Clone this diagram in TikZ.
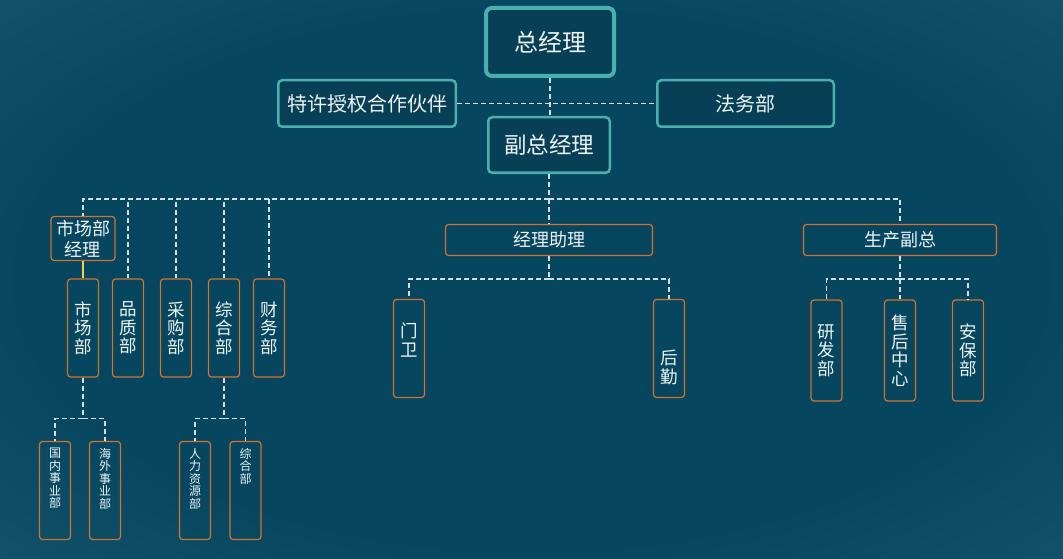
\documentclass[tikz,border=0pt]{standalone}
\usepackage{fontspec}
\setmainfont{Noto Sans CJK SC}
\usetikzlibrary{positioning,calc}
\definecolor{bgdeep}{HTML}{06465E}
\definecolor{bgedge}{HTML}{28657F}
\definecolor{tealline}{HTML}{4AB0AF}
\definecolor{tealfill}{HTML}{073F56}
\definecolor{orangeline}{HTML}{D27430}
\definecolor{dashgray}{HTML}{D5DEE2}
\definecolor{linkyellow}{HTML}{F0D34A}
\definecolor{labelwhite}{HTML}{EEF4F4}
\pgfdeclareradialshading{vignette}{\pgfpoint{0bp}{0bp}}{color(0bp)=(bgdeep); color(24bp)=(bgdeep); color(56bp)=(bgedge); color(72bp)=(bgedge)}
\tikzset{
  topbox/.style={rounded corners=6pt, draw=tealline, line width=4pt, fill=tealfill, text=labelwhite, align=center, inner sep=0pt},
  tealbox/.style={rounded corners=4pt, draw=tealline, line width=2.5pt, fill=tealfill, text=labelwhite, align=center, inner sep=0pt},
  deptbox/.style={rounded corners=3pt, draw=orangeline, line width=1.2pt, text=labelwhite, align=center, inner sep=0pt, minimum height=31pt, font=\fontsize{18}{20}\selectfont},
  colbox/.style={rounded corners=3pt, draw=orangeline, line width=1.2pt, text=labelwhite, align=center, inner sep=0pt, minimum width=31pt, font=\fontsize{17.5}{18.5}\selectfont},
  subbox/.style={colbox, minimum height=98pt},
  coltext/.style={text=labelwhite, align=center, inner sep=0pt, font=\fontsize{17.5}{18.5}\selectfont},
  subtext/.style={text=labelwhite, align=center, inner sep=0pt, font=\fontsize{12}{12.5}\selectfont},
  link/.style={draw=dashgray, line width=1.3pt, dash pattern=on 5pt off 3pt},
  mainlink/.style={draw=linkyellow, line width=1.5pt}
}

\begin{document}
\begin{tikzpicture}[x=1pt, y=-1pt]
  \shade[shading=vignette] (0,0) rectangle (1063,559);

  % top management
  \node[topbox, minimum width=128pt, minimum height=68pt, font=\fontsize{24}{26}\selectfont] (gm) at (550,42) {总经理};
  \node[tealbox, minimum width=177.5pt, minimum height=46.5pt, font=\fontsize{20}{22}\selectfont] (partner) at (367,103.5) {特许授权合作伙伴};
  \node[tealbox, minimum width=176.5pt, minimum height=46.5pt, font=\fontsize{20}{22}\selectfont] (legal) at (745.5,103.5) {法务部};
  \node[tealbox, minimum width=121.5pt, minimum height=55.5pt, font=\fontsize{22.5}{24}\selectfont] (vgm) at (549,145) {副总经理};

  % second level
  \node[deptbox, minimum width=64pt, minimum height=44pt, font=\fontsize{18}{21}\selectfont] (mgr) at (83,238.5) {市场部\\经理};
  \node[deptbox, minimum width=207pt] (asst) at (549,240) {经理助理};
  \node[deptbox, minimum width=193pt] (prod) at (900,240) {生产副总};

  % departments
  \node[colbox, minimum height=98pt] (mkt) at (83,328) {市\\场\\部};
  \node[colbox, minimum height=98pt] (qual) at (128,328) {品\\质\\部};
  \node[colbox, minimum height=98pt] (purch) at (176,328) {采\\购\\部};
  \node[colbox, minimum height=98pt] (gen) at (224,328) {综\\合\\部};
  \node[colbox, minimum height=98pt] (fin) at (269,328) {财\\务\\部};

  \node[colbox, minimum height=98pt] (gate) at (409,348.5) {};
  \node[coltext, below=24pt of gate.north] (gatetext) {门\\卫};
  \node[colbox, minimum height=98pt] (logi) at (669,348.5) {};
  \node[coltext, above=13pt of logi.south] (logitext) {后\\勤};

  \node[colbox, minimum height=101pt] (rd) at (826.5,350.5) {研\\发\\部};
  \node[colbox, minimum height=101pt] (svc) at (900,350.5) {售\\后\\中\\心};
  \node[colbox, minimum height=101pt] (sec) at (968,350.5) {安\\保\\部};

  % third level
  \node[subbox] (dom) at (55,490.5) {};
  \node[subtext, below=7pt of dom.north] (domtext) {国\\内\\事\\业\\部};
  \node[subbox] (ovs) at (105,490.5) {};
  \node[subtext, below=7pt of ovs.north] (ovstext) {海\\外\\事\\业\\部};
  \node[subbox] (hr) at (195,490.5) {};
  \node[subtext, below=7pt of hr.north] (hrtext) {人\\力\\资\\源\\部};
  \node[subbox] (gensub) at (245.5,490.5) {};
  \node[subtext, below=7pt of gensub.north] (gensubtext) {综\\合\\部};

  % connectors
  \draw[link] (gm.south) -- (gm.south |- vgm.north);
  \draw[link] (partner.east) -- (legal.west);
  \coordinate (topbus) at (549,199);
  \draw[link] (vgm.south) -- (topbus);
  \foreach \d in {mgr,qual,purch,gen,fin,asst,prod}
    \draw[link] (topbus) -| (\d.north);
  \draw[mainlink] (mgr.south) -- (mkt.north);

  \draw[link] (mkt.south) -- ++(0,41) coordinate (mktbus);
  \draw[link] (mktbus) -| (dom.north);
  \draw[link] (mktbus) -| (ovs.north);
  \draw[link] (gen.south) -- ++(0,41) coordinate (genbus);
  \draw[link] (genbus) -| (hr.north);
  \draw[link] (genbus) -| (gensub.north);

  \draw[link] (asst.south) -- ++(0,23) coordinate (asstbus);
  \draw[link] (asstbus) -| (gate.north);
  \draw[link] (asstbus) -| (logi.north);
  \draw[link] (prod.south) -- ++(0,23) coordinate (prodbus);
  \foreach \d in {rd,svc,sec}
    \draw[link] (prodbus) -| (\d.north);
\end{tikzpicture}
\end{document}
